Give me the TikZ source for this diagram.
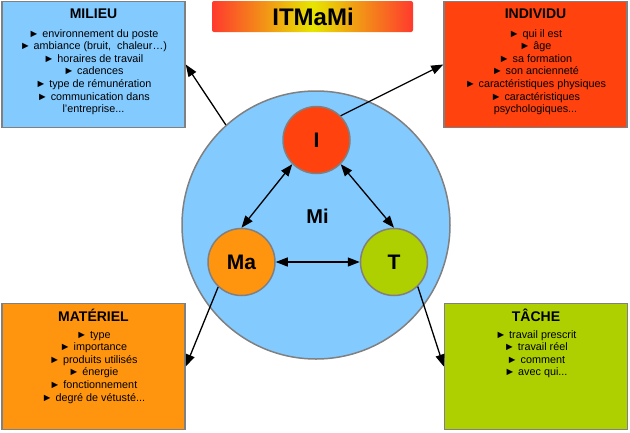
\documentclass[tikz,border=0pt]{standalone}
\usepackage{fontspec}
\setmainfont{Liberation Sans}
\usetikzlibrary{arrows.meta}
\definecolor{cblue}{HTML}{83CAFF}
\definecolor{cred}{HTML}{FF420E}
\definecolor{corange}{HTML}{FF950E}
\definecolor{cgreen}{HTML}{AECF00}
\definecolor{cgray}{HTML}{808080}
\definecolor{gred}{HTML}{FF3A2E}
\definecolor{gyellow}{HTML}{E6E600}
\begin{document}
\begin{tikzpicture}[x=1pt,y=-1pt,
  infobox/.style={draw=cgray, line width=1.5pt, fill=#1, minimum width=183pt, minimum height=126pt, inner sep=0pt},
  boxtitle/.style={font=\bfseries\fontsize{14}{16}\selectfont, inner sep=0pt, anchor=base},
  items/.style={font=\fontsize{10.8}{12.6}\selectfont, align=center, inner sep=0pt, anchor=north},
  small/.style={circle, draw=cgray, line width=1.5pt, fill=#1, minimum size=67pt, inner sep=0pt, font=\bfseries\fontsize{21}{24}\selectfont},
  conn/.style={line width=1.3pt, -{Triangle[length=12pt,width=9pt]}},
  dconn/.style={line width=1.3pt, {Triangle[length=12pt,width=9pt]}-{Triangle[length=12pt,width=9pt]}}
]
\useasboundingbox (0,0) rectangle (630,432);

% title
\shade[left color=gred, right color=gred, middle color=gyellow, rounded corners=2pt] (212,1) rectangle (413,32);
\node[font=\bfseries\fontsize{24}{28}\selectfont, inner sep=0pt] (title) at (313,16.5) {ITMaMi};

% boxes
\node[infobox=cblue] (milieu) at (93.5,64.5) {};
\node[boxtitle] (milieuT) at (93.5,18.5) {MILIEU};
\node[items] (milieuL) at (93.5,29) {► environnement du poste\\► ambiance (bruit,~ chaleur…)\\► horaires de travail\\► cadences\\► type de rémunération\\► communication dans\\l’entreprise...};

\node[infobox=cred] (individu) at (535.5,64.5) {};
\node[boxtitle] (individuT) at (535.5,18.5) {INDIVIDU};
\node[items] (individuL) at (535.5,29) {► qui il est\\► âge\\► sa formation\\► son ancienneté\\► caractéristiques physiques\\► caractéristiques\\psychologiques...};

\node[infobox=corange] (materiel) at (93.5,366.5) {};
\node[boxtitle] (materielT) at (93.5,321) {MATÉRIEL};
\node[items] (materielL) at (93.5,331) {► type\\► importance\\► produits utilisés\\► énergie\\► fonctionnement\\► degré de vétusté...};

\node[infobox=cgreen] (tache) at (536,366.5) {};
\node[boxtitle] (tacheT) at (536,321) {TÂCHE};
\node[items] (tacheL) at (536,330) {► travail prescrit\\► travail réel\\► comment\\► avec qui...};

% big circle
\node[circle, draw=cgray, line width=1.5pt, fill=cblue, minimum size=268pt, inner sep=0pt] (big) at (316,225) {};
\node[font=\bfseries\fontsize{20}{24}\selectfont, inner sep=0pt] (mi) at (317.5,216.5) {Mi};

\node[small=cred] (I) at (316.5,140) {I};
\node[small=corange] (Ma) at (241.5,262) {Ma};
\node[small=cgreen] (T) at (394,262) {T};

% connectors
\draw[dconn] (I.225) -- (Ma.north);
\draw[dconn] (I.-45) -- (T.north);
\draw[dconn] (Ma.east) -- (T.west);

\draw[conn] (big.132) -- (milieu.east);
\draw[conn] (I.45) -- (individu.west);
\draw[conn] (Ma.-133) -- (materiel.east);
\draw[conn] (T.-46) -- (tache.west);
\end{tikzpicture}
\end{document}
